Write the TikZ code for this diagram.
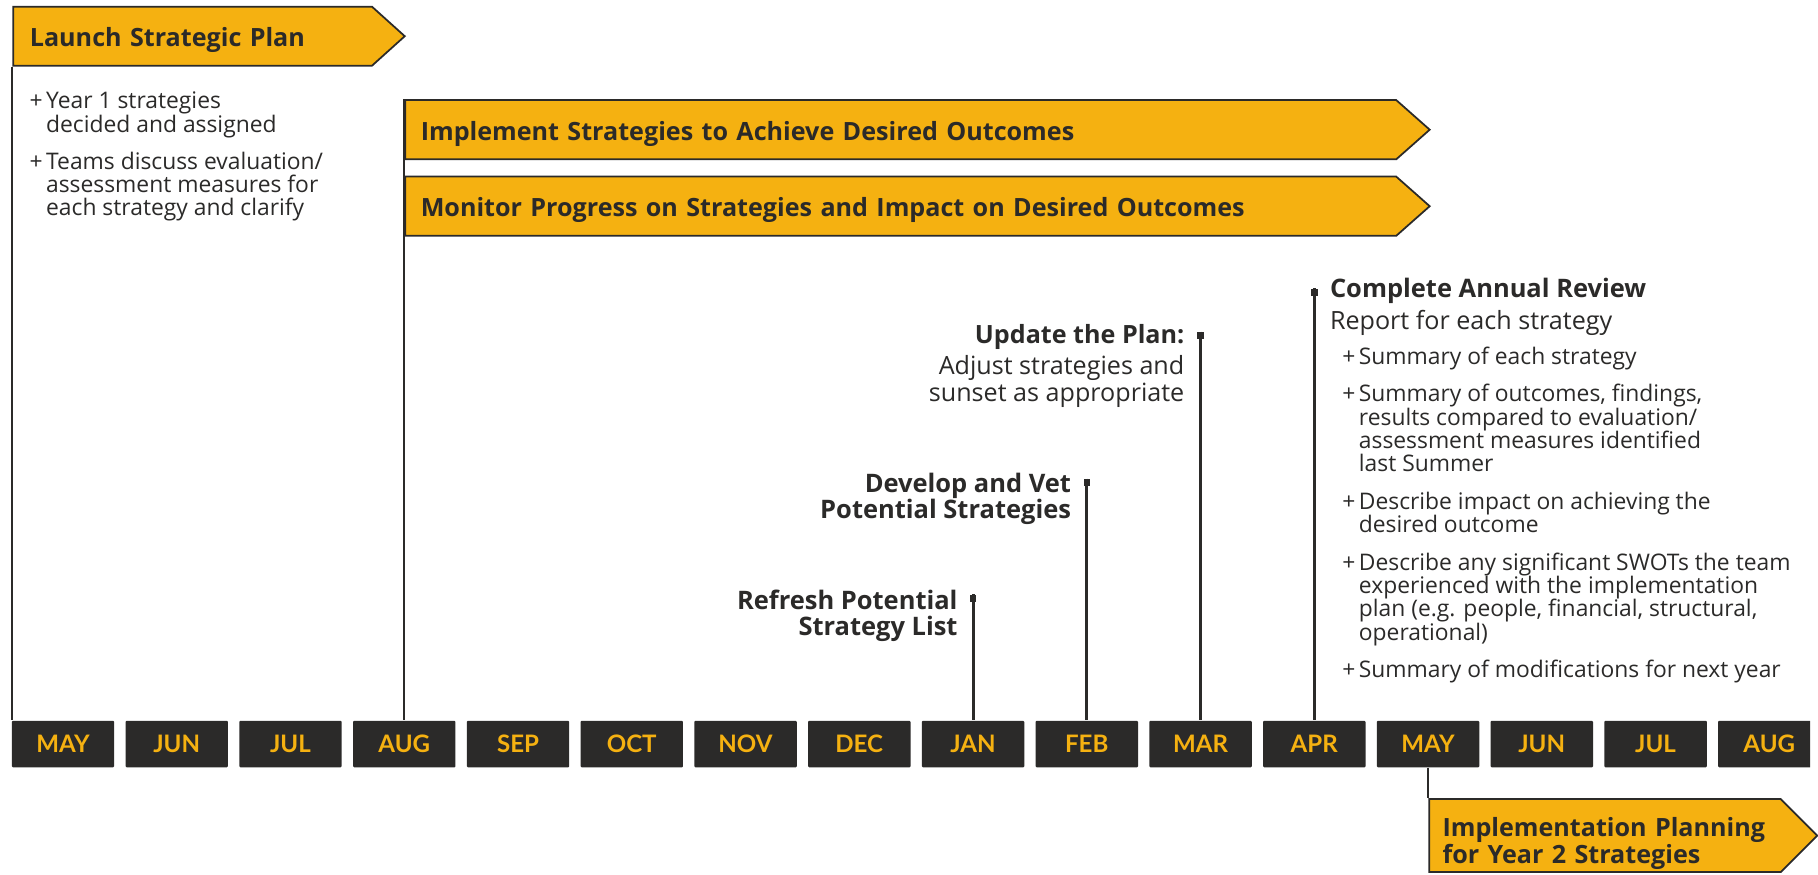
\documentclass[tikz,border=0pt]{standalone}
\usepackage{fontspec}
\setmainfont{Open Sans}
\newfontfamily\lato{Lato}
\usepackage{tikz}
\usetikzlibrary{shapes.symbols, positioning}
\definecolor{gold}{RGB}{245,177,17}
\definecolor{ink}{RGB}{43,42,41}
\tikzstyle{band}=[signal, signal to=east, draw=ink, fill=gold, line width=0.035cm, inner ysep=0pt, align=left, text=ink, font=\bfseries\fontsize{14.3}{15.1}\selectfont]
\tikzstyle{oneline}=[text height=0.43cm, text depth=0pt]
\tikzstyle{month}=[rectangle, fill=ink, rounded corners=0.02cm, minimum width=2.05cm, minimum height=0.93cm, inner sep=0pt, text=gold, font=\lato\bfseries\fontsize{13.7}{15}\selectfont]
\tikzstyle{marker}=[rectangle, fill=ink, minimum width=0.13cm, minimum height=0.14cm, inner sep=0pt]
\tikzstyle{stem}=[draw=ink, line width=0.06cm]
\tikzstyle{thin}=[draw=ink, line width=0.045cm]
\tikzstyle{head}=[text=ink, inner sep=0pt, font=\bfseries\fontsize{14.5}{15.1}\selectfont]
\tikzstyle{body}=[text=ink, inner sep=0pt, font=\fontsize{14.3}{15.1}\selectfont]
\tikzstyle{list}=[text=ink, inner sep=0pt, align=left, font=\fontsize{13}{13.3}\selectfont]
\newcommand\pl{\makebox[0.33cm][l]{+}}
\newcommand\hg{\hspace*{0.33cm}}

\begin{document}
\begin{tikzpicture}[x=0.02cm, y=-0.02cm]
	\useasboundingbox (0,0) rectangle (1818,875);
	\begin{scope}
		\clip (0,0) rectangle (1810,875);
		\foreach \m [count=\i from 0] in {MAY,JUN,JUL,AUG,SEP,OCT,NOV,DEC,JAN,FEB,MAR,APR,MAY,JUN,JUL,AUG}
			\node[month] (m\i) at (63+113.75*\i,744) {\m};
	\end{scope}
	\node[band, oneline, text width=6.51cm, inner xsep=0.334cm, minimum height=1.18cm, signal pointer angle=84, anchor=west] (launch) at (12.3,36.2) {Launch Strategic Plan};
	\node[band, oneline, text width=19.2cm, inner xsep=0.312cm, minimum height=1.186cm, signal pointer angle=83, anchor=west] (implement) at (404.3,129.7) {Implement Strategies to Achieve Desired Outcomes};
	\node[band, oneline, text width=19.2cm, inner xsep=0.312cm, minimum height=1.186cm, signal pointer angle=83, anchor=west] (monitor) at (404.3,206.2) {Monitor Progress on Strategies and Impact on Desired Outcomes};
	\node[band, text width=6.5cm, inner xsep=0.267cm, minimum height=1.46cm, signal pointer angle=90, anchor=west] (planning) at (1428.3,835.6) {\rule{0pt}{0.7cm}\mbox{Implementation Planning}\\\mbox{for Year 2 Strategies}};
	\draw[thin] (launch.south west) -- (launch.south west |- m0.north);
	\draw[thin] (implement.north west) -- (implement.north west |- m3.north);
	\draw[thin] (m12.south) -- (m12.south |- planning.north west);
	\node[marker, anchor=north] (jan) at (m8.north |- 0,594.3) {};
	\node[marker, anchor=north] (feb) at (m9.north |- 0,478.5) {};
	\node[marker, anchor=north] (mar) at (m10.north |- 0,331.5) {};
	\node[marker, anchor=north] (apr) at (m11.north |- 0,288.3) {};
	\foreach \t/\k in {jan/8, feb/9, mar/10, apr/11}
		\draw[stem] (\t.north) -- (m\k.north);
	\node[list, anchor=north west] (launchlist) at ([xshift=0.34cm, yshift=-0.5cm]launch.south west) {\pl Year 1 strategies\\\hg decided and assigned\\[7.8pt]\pl Teams discuss evaluation/\\\hg assessment measures for\\\hg each strategy and clarify};
	\node[head, align=right, anchor=north east] (refresh) at ([xshift=-0.23cm, yshift=0.1cm]jan.north west) {Refresh Potential\\Strategy List};
	\node[head, align=right, anchor=north east] (develop) at ([xshift=-0.236cm, yshift=0.12cm]feb.north west) {Develop and Vet\\Potential Strategies};
	\node[body, align=right, anchor=north east] (update) at ([xshift=-0.245cm, yshift=0.15cm]mar.north west) {\textbf{Update the Plan:}\\[0.1cm]Adjust strategies and\\sunset as appropriate};
	\node[head, anchor=base west] (review) at ([xshift=0.236cm, yshift=-0.194cm]apr.north east) {Complete Annual Review};
	\node[body, anchor=base west] (report) at ([yshift=-0.64cm]review.base west) {Report for each strategy};
	\node[list, anchor=north west] (reviewlist) at ([xshift=0.248cm, yshift=-0.33cm]report.base west) {\pl Summary of each strategy\\[8pt]\pl Summary of outcomes, findings,\\\hg results compared to evaluation/\\\hg assessment measures identified\\\hg last Summer\\[8pt]\pl Describe impact on achieving the\\\hg desired outcome\\[8pt]\pl Describe any significant SWOTs the team\\\hg experienced with the implementation\\\hg plan (e.g. people, financial, structural,\\\hg operational)\\[8pt]\pl Summary of modifications for next year};
\end{tikzpicture}
\end{document}
